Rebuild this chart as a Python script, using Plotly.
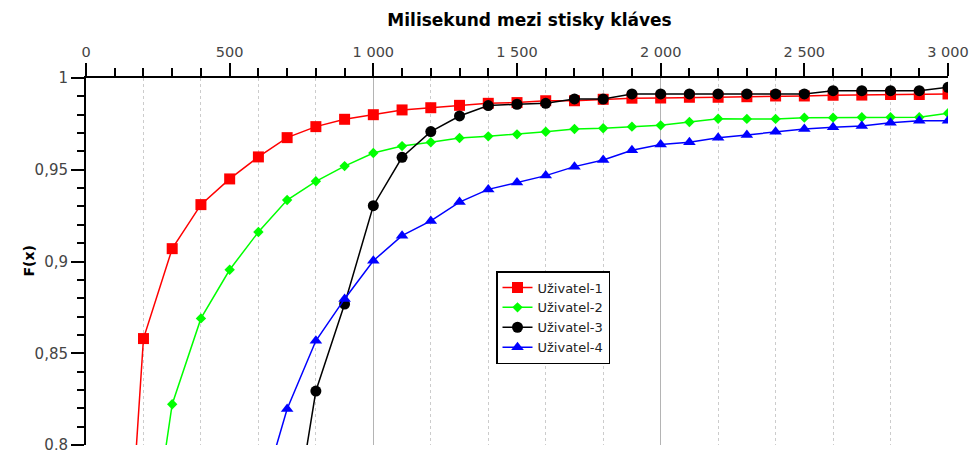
import plotly.graph_objects as go

ms = [100, 200, 300, 400, 500, 600, 700, 800, 900, 1000,
      1100, 1200, 1300, 1400, 1500, 1600, 1700, 1800, 1900, 2000,
      2100, 2200, 2300, 2400, 2500, 2600, 2700, 2800, 2900, 3000]

user1 = [0.62, 0.858, 0.907, 0.931, 0.945, 0.957, 0.9675, 0.9735, 0.9775, 0.980,
         0.9826, 0.9838, 0.9851, 0.9862, 0.9866, 0.9876, 0.9876, 0.9884, 0.989, 0.9891,
         0.9895, 0.9895, 0.9898, 0.9902, 0.9902, 0.9906, 0.9907, 0.991, 0.991, 0.9913]

user2 = [None, 0.716, 0.8222, 0.869, 0.8955, 0.9161, 0.9335, 0.9437, 0.952, 0.9591,
         0.9629, 0.965, 0.9673, 0.9682, 0.9693, 0.9707, 0.9722, 0.9726, 0.9735, 0.9742,
         0.976, 0.9778, 0.9777, 0.9777, 0.9784, 0.9784, 0.9786, 0.9786, 0.9786, 0.9808]

user3 = [None, None, None, None, None, None, 0.733, 0.8294, 0.8768, 0.9304,
         0.9568, 0.9708, 0.9793, 0.985, 0.9857, 0.9862, 0.9886, 0.9885, 0.9913, 0.9913,
         0.9913, 0.9913, 0.9913, 0.9913, 0.9913, 0.9931, 0.9931, 0.9931, 0.9931, 0.9949]

user4 = [None, None, None, None, None, 0.766, 0.8196, 0.8568, 0.8796, 0.9004,
         0.9141, 0.9221, 0.9324, 0.9393, 0.943, 0.9468, 0.9517, 0.9553, 0.9606, 0.9637,
         0.965, 0.9675, 0.969, 0.9707, 0.9722, 0.9731, 0.9738, 0.9756, 0.9767, 0.9767]

names = ["Uživatel-1", "Uživatel-2", "Uživatel-3", "Uživatel-4"]
colors = ["#ff0000", "#00ff00", "#000000", "#0000ff"]
symbols = ["square", "diamond", "circle", "triangle-up"]
sizes = [11, 8, 11, 11]

fig = go.Figure()
for name, vals, col, sym, sz in zip(names, [user1, user2, user3, user4], colors, symbols, sizes):
    fig.add_trace(go.Scatter(
        x=ms, y=vals, name=name, mode="lines+markers",
        line=dict(color=col, width=1.5),
        marker=dict(color=col, symbol=sym, size=sz, line=dict(width=0)),
    ))

# empty trace to attach the grid overlay axis
fig.add_trace(go.Scatter(x=[], y=[], xaxis="x2", showlegend=False, hoverinfo="skip"))

W, H = 969, 450
fig.update_layout(
    width=W, height=H,
    margin=dict(l=86, r=21, t=78, b=5, autoexpand=False),
    paper_bgcolor="white", plot_bgcolor="white",
    separators=", ",
    font=dict(family="DejaVu Sans", size=15, color="#444"),
    title=dict(text="Milisekund mezi stisky kláves", x=(529.5 - 86) / 862, xref="paper",
               xanchor="center", y=1 - 20 / H, yref="container", yanchor="middle",
               font=dict(size=17, color="black", weight="bold")),
    xaxis=dict(range=[0, 3000], side="top", tick0=0, dtick=500, ticks="outside",
               ticklen=13, tickwidth=2, tickcolor="black", automargin=False,
               ticklabeloverflow="allow", tickfont=dict(size=14.5),
               showline=True, linecolor="black", linewidth=2,
               showgrid=False, zeroline=False, separatethousands=True,
               minor=dict(dtick=100, ticks="outside", ticklen=8, tickwidth=1.5,
                          tickcolor="black", showgrid=False)),
    xaxis2=dict(range=[0, 3000], overlaying="x", side="top", showticklabels=False,
                ticks="", showline=False, zeroline=False, automargin=False,
                showgrid=True, tick0=0, dtick=1000, gridcolor="#b4b4b4", gridwidth=1,
                minor=dict(dtick=200, showgrid=True, gridcolor="#cccccc",
                           griddash="dot", gridwidth=1, ticks="")),
    yaxis=dict(range=[0.8, 1], tick0=0.8, dtick=0.05, ticks="outside",
               ticklen=13, tickwidth=2, tickcolor="black", automargin=False,
               ticklabeloverflow="allow",
               showline=True, linecolor="black", linewidth=2,
               showgrid=False, zeroline=False,
               minor=dict(dtick=0.01, ticks="outside", ticklen=7, tickwidth=1.5,
                          tickcolor="black", showgrid=False)),
    legend=dict(x=(496 - 86) / 862, y=1 - (271 - 78) / 367, xanchor="left", yanchor="top",
                bgcolor="white", bordercolor="black", borderwidth=1.5,
                font=dict(size=13, color="#222"), tracegroupgap=0),
    annotations=[dict(text="F(x)", textangle=-90, xref="paper", yref="paper",
                      x=0, y=0.5, xshift=-68, showarrow=False,
                      font=dict(size=14, color="black", weight="bold"))],
)

# remove the default page margin so the figure sits at the window's top-left corner
fig.write_html("out.html",
               config={"displayModeBar": False},
               post_script="document.body.style.margin='0';document.body.style.overflow='hidden';")
